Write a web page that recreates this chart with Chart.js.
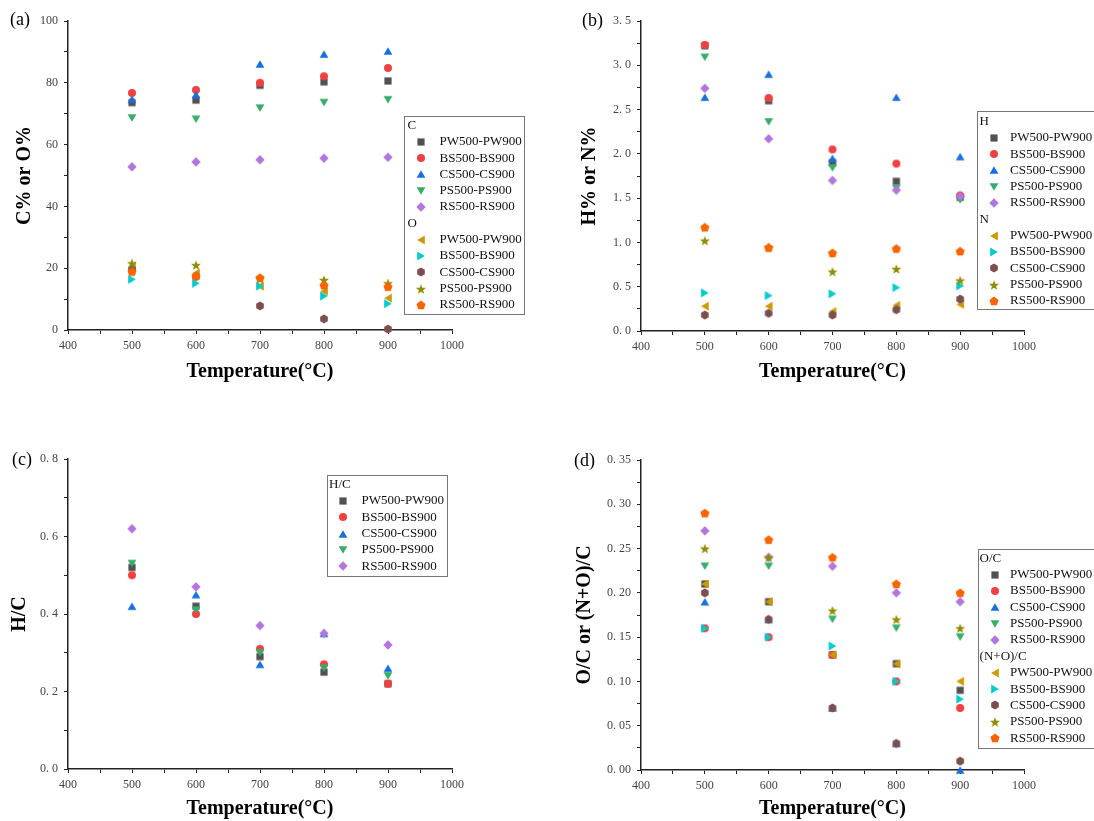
<!DOCTYPE html>
<html><head><meta charset="utf-8">
<script src="https://cdn.jsdelivr.net/npm/chart.js@4.4.1/dist/chart.umd.min.js"></script>
<style>
html,body{margin:0;padding:0;background:#fff;width:1094px;height:821px;overflow:hidden;}
.p{position:absolute;}
canvas{display:block;}
</style></head><body>
<div class="p" style="left:0;top:0"><canvas id="ca" width="547" height="410"></canvas></div>
<div class="p" style="left:547px;top:0"><canvas id="cb" width="547" height="410"></canvas></div>
<div class="p" style="left:0;top:410px"><canvas id="cc" width="547" height="411"></canvas></div>
<div class="p" style="left:547px;top:410px"><canvas id="cd" width="547" height="411"></canvas></div>
<script>
// ---- data ----
const temps = [500, 600, 700, 800, 900];
const samples = ['PW500-PW900', 'BS500-BS900', 'CS500-CS900', 'PS500-PS900', 'RS500-RS900'];

// (a) C% and O%
const cPW = [73.6, 74.4, 79.2, 80.3, 80.6];
const cBS = [76.7, 77.7, 80.0, 82.1, 84.8];
const cCS = [74.7, 76.2, 86.1, 89.3, 90.3];
const cPS = [68.6, 68.2, 71.8, 73.6, 74.5];
const cRS = [52.8, 54.4, 55.1, 55.6, 55.9];
const oPW = [20.6, 18.4, 14.2, 12.5, 10.3];
const oBS = [16.4, 15.1, 14.2, 11.0, 8.5];
const oCS = [19.6, 17.3, 7.8, 3.6, 0.3];
const oPS = [21.6, 21.0, 16.6, 16.2, 15.1];
const oRS = [18.9, 17.5, 16.9, 14.5, 14.0];

// (b) H% and N%
const hPW = [3.22, 2.60, 1.90, 1.69, 1.51];
const hBS = [3.23, 2.63, 2.05, 1.89, 1.53];
const hCS = [2.64, 2.90, 1.95, 2.64, 1.97];
const hPS = [3.09, 2.36, 1.84, 1.61, 1.48];
const hRS = [2.74, 2.17, 1.70, 1.59, 1.52];
const nPW = [0.28, 0.28, 0.22, 0.29, 0.30];
const nBS = [0.43, 0.40, 0.42, 0.49, 0.51];
const nCS = [0.18, 0.20, 0.18, 0.24, 0.36];
const nPS = [1.02, 0.95, 0.67, 0.70, 0.57];
const nRS = [1.17, 0.94, 0.88, 0.93, 0.90];

// (c) H/C
const hcPW = [0.52, 0.42, 0.29, 0.25, 0.22];
const hcBS = [0.50, 0.40, 0.31, 0.27, 0.22];
const hcCS = [0.42, 0.45, 0.27, 0.35, 0.26];
const hcPS = [0.53, 0.41, 0.30, 0.26, 0.24];
const hcRS = [0.62, 0.47, 0.37, 0.35, 0.32];

// (d) O/C and (N+O)/C
const ocPW = [0.21, 0.19, 0.13, 0.12, 0.09];
const ocBS = [0.16, 0.15, 0.13, 0.10, 0.07];
const ocCS = [0.19, 0.17, 0.07, 0.03, 0.00];
const ocPS = [0.23, 0.23, 0.17, 0.16, 0.15];
const ocRS = [0.27, 0.24, 0.23, 0.20, 0.19];
const nocPW = [0.21, 0.19, 0.13, 0.12, 0.10];
const nocBS = [0.16, 0.15, 0.14, 0.10, 0.08];
const nocCS = [0.20, 0.17, 0.07, 0.03, 0.01];
const nocPS = [0.25, 0.24, 0.18, 0.17, 0.16];
const nocRS = [0.29, 0.26, 0.24, 0.21, 0.20];

// ---- styles ----
const palette = ['#515151','#F14040','#1A6FDF','#37AD6B','#B177DE','#CC9900','#00CBCC','#7D4E4E','#8E8E00','#FB6501'];
const shapes = ['square','circle','triUp','triDown','diamond','triLeft','triRight','hexagon','star','pentagon'];

function makeMarker(shape, color){
  const S = 14, c = 7;
  const cv = document.createElement('canvas'); cv.width = S; cv.height = S;
  const g = cv.getContext('2d'); g.fillStyle = color; g.beginPath();
  const poly = (n, R, startDeg, dx, dy) => {
    for (let k = 0; k < n; k++){
      const a = (startDeg + k*360/n) * Math.PI/180;
      const px = c + dx + R*Math.cos(a), py = c + dy + R*Math.sin(a);
      k ? g.lineTo(px, py) : g.moveTo(px, py);
    }
    g.closePath();
  };
  switch(shape){
    case 'square': g.rect(c-3.6, c-3.6, 7.2, 7.2); break;
    case 'circle': g.arc(c, c, 4.0, 0, Math.PI*2); break;
    case 'triUp': poly(3, 5.1, -90, 0, 1.25); break;
    case 'triDown': poly(3, 5.1, 90, 0, -1.25); break;
    case 'triLeft': poly(3, 5.1, 180, 1.25, 0); break;
    case 'triRight': poly(3, 5.1, 0, -1.25, 0); break;
    case 'diamond': poly(4, 4.7, -90, 0, 0); break;
    case 'hexagon': poly(6, 4.4, -90, 0, 0); break;
    case 'pentagon': poly(5, 4.8, -90, 0, 0.4); break;
    case 'star':
      for (let k = 0; k < 10; k++){
        const R = k % 2 ? 2.2 : 5.3;
        const a = (-90 + k*36) * Math.PI/180;
        const px = c + R*Math.cos(a), py = c + 0.5 + R*Math.sin(a);
        k ? g.lineTo(px, py) : g.moveTo(px, py);
      }
      g.closePath(); break;
  }
  g.fill();
  return cv;
}
const markers = shapes.map((s, i) => makeMarker(s, palette[i]));

function ds(label, values, i){
  return {
    label, data: temps.map((t, k) => ({x: t, y: values[k]})),
    pointStyle: markers[i], pointRadius: 5, pointHoverRadius: 5,
    backgroundColor: palette[i], borderColor: palette[i],
    showLine: false, clip: false, order: 20 - i
  };
}

// ---- legend / panel-label plugin ----
const boxLegend = {
  id: 'boxLegend',
  afterDraw(chart, args, o){
    const ctx = chart.ctx; ctx.save();
    ctx.fillStyle = '#fff'; ctx.fillRect(o.x, o.y, o.w, o.h);
    ctx.strokeStyle = '#777'; ctx.lineWidth = 1;
    ctx.strokeRect(Math.round(o.x)+0.5, Math.round(o.y)+0.5, Math.round(o.w), Math.round(o.h));
    ctx.font = '13px "Liberation Serif"'; ctx.textBaseline = 'middle'; ctx.textAlign = 'left';
    ctx.fillStyle = '#111';
    let row = 0;
    o.groups.forEach(gp => {
      ctx.fillText(gp.title, o.headerX, o.y0 + row*o.step); row++;
      gp.items.forEach(idx => {
        const y = o.y0 + row*o.step;
        const d = chart.data.datasets[idx];
        const img = d.pointStyle;
        ctx.drawImage(img, Math.round(o.symX - img.width/2), Math.round(y - img.height/2));
        ctx.fillText(d.label, o.textX, y);
        row++;
      });
    });
    ctx.font = '18px "Liberation Serif"'; ctx.fillStyle = '#000';
    ctx.fillText(o.tag, o.tagX, o.tagY);
    ctx.restore();
  }
};

const tickFont = {family: 'Liberation Serif', size: 12};
const titleFont = {family: 'Liberation Serif', size: 20, weight: 'bold'};

function makeChart(id, W, H, area, datasets, yCfg, xTitlePad, legend){
  return new Chart(document.getElementById(id), {
    type: 'scatter',
    data: {datasets},
    options: {
      responsive: false, animation: false, events: [],
      layout: {padding: {left: 0, top: area.t, right: W - area.r, bottom: 0}},
      plugins: {legend: {display: false}, tooltip: {enabled: false}, boxLegend: legend},
      scales: {
        x: {
          type: 'linear', min: 400, max: 1000,
          afterFit: s => { s.height = H - area.b; },
          border: {display: true, color: '#222', width: 1.5},
          grid: {drawOnChartArea: false, drawTicks: true, tickLength: 4, color: '#222', lineWidth: 1},
          ticks: {stepSize: 50, autoSkip: false, maxRotation: 0, padding: 5, font: tickFont, color: '#444',
                  callback: v => (v % 100 === 0 ? String(v) : '')},
          title: {display: true, text: 'Temperature(°C)', font: titleFont, color: '#000', padding: {top: 0, bottom: xTitlePad}}
        },
        y: {
          type: 'linear', min: yCfg.min, max: yCfg.max,
          afterFit: s => { s.width = area.l; },
          border: {display: true, color: '#222', width: 1.5},
          grid: {drawOnChartArea: false, drawTicks: true, tickLength: 4, color: '#222', lineWidth: 1},
          ticks: {stepSize: yCfg.step, autoSkip: false, maxTicksLimit: 100, padding: 6, font: tickFont, color: '#444',
                  callback: yCfg.fmt},
          title: {display: true, text: yCfg.title, font: titleFont, color: '#000', padding: {top: yCfg.titlePad, bottom: 0}}
        }
      }
    },
    plugins: [boxLegend]
  });
}

const near = (v, m) => Math.abs(v/m - Math.round(v/m)) < 1e-6;
const spaced = (v, d) => v.toFixed(d).replace('.', '. ');

// (a)
makeChart('ca', 547, 410, {l: 68, t: 21, r: 452, b: 330},
  [ds(samples[0], cPW, 0), ds(samples[1], cBS, 1), ds(samples[2], cCS, 2), ds(samples[3], cPS, 3), ds(samples[4], cRS, 4),
   ds(samples[0], oPW, 5), ds(samples[1], oBS, 6), ds(samples[2], oCS, 7), ds(samples[3], oPS, 8), ds(samples[4], oRS, 9)],
  {min: 0, max: 100, step: 10, title: 'C% or O%', titlePad: 13, fmt: v => (near(v, 20) ? String(Math.round(v)) : '')},
  26,
  {x: 403.5, y: 115.5, w: 120, h: 198, y0: 125.5, step: 16.3, headerX: 407.5, symX: 420.5, textX: 439.5,
   groups: [{title: 'C', items: [0,1,2,3,4]}, {title: 'O', items: [5,6,7,8,9]}],
   tag: '(a)', tagX: 10, tagY: 20});

// (b)
makeChart('cb', 547, 410, {l: 94, t: 21, r: 477, b: 331},
  [ds(samples[0], hPW, 0), ds(samples[1], hBS, 1), ds(samples[2], hCS, 2), ds(samples[3], hPS, 3), ds(samples[4], hRS, 4),
   ds(samples[0], nPW, 5), ds(samples[1], nBS, 6), ds(samples[2], nCS, 7), ds(samples[3], nPS, 8), ds(samples[4], nRS, 9)],
  {min: 0, max: 3.5, step: 0.25, title: 'H% or N%', titlePad: 31, fmt: v => (near(v, 0.5) ? spaced(v, 1) : '')},
  26,
  {x: 430.3, y: 111.3, w: 200, h: 198.4, y0: 121.5, step: 16.3, headerX: 432.5, symX: 446.5, textX: 463,
   groups: [{title: 'H', items: [0,1,2,3,4]}, {title: 'N', items: [5,6,7,8,9]}],
   tag: '(b)', tagX: 35, tagY: 21});

// (c)
makeChart('cc', 547, 411, {l: 68, t: 49, r: 452, b: 359},
  [ds(samples[0], hcPW, 0), ds(samples[1], hcBS, 1), ds(samples[2], hcCS, 2), ds(samples[3], hcPS, 3), ds(samples[4], hcRS, 4)],
  {min: 0, max: 0.8, step: 0.1, title: 'H/C', titlePad: 8, fmt: v => (near(v, 0.2) ? spaced(v, 1) : '')},
  0,
  {x: 326.8, y: 65, w: 119.8, h: 100.7, y0: 74.3, step: 16.4, headerX: 329, symX: 343.3, textX: 361.6,
   groups: [{title: 'H/C', items: [0,1,2,3,4]}],
   tag: '(c)', tagX: 12, tagY: 50});

// (d)
makeChart('cd', 547, 411, {l: 94, t: 50, r: 477, b: 360},
  [ds(samples[0], ocPW, 0), ds(samples[1], ocBS, 1), ds(samples[2], ocCS, 2), ds(samples[3], ocPS, 3), ds(samples[4], ocRS, 4),
   ds(samples[0], nocPW, 5), ds(samples[1], nocBS, 6), ds(samples[2], nocCS, 7), ds(samples[3], nocPS, 8), ds(samples[4], nocRS, 9)],
  {min: 0, max: 0.35, step: 0.025, title: 'O/C or (N+O)/C', titlePad: 26, fmt: v => (near(v, 0.05) ? spaced(v, 2) : '')},
  0,
  {x: 431.3, y: 139.3, w: 200, h: 199, y0: 148.3, step: 16.35, headerX: 432.6, symX: 447.5, textX: 463,
   groups: [{title: 'O/C', items: [0,1,2,3,4]}, {title: '(N+O)/C', items: [5,6,7,8,9]}],
   tag: '(d)', tagX: 27, tagY: 51});
</script>
</body></html>
